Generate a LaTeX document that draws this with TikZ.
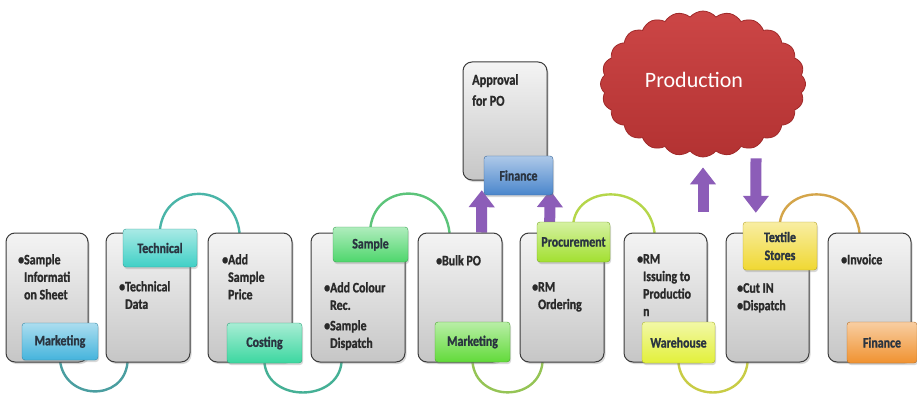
\documentclass[tikz,border=0pt]{standalone}
\usepackage{fontspec}
\setmainfont{Carlito}
\newfontfamily\condfont{Carlito}[FakeStretch=0.82, BoldFeatures={FakeBold=1.2}]
\usetikzlibrary{shapes.symbols,shadows,arrows.meta,calc}
\pgfdeclarelayer{back}
\pgfdeclarelayer{conn}
\pgfsetlayers{back,conn,main}
\definecolor{boxline}{HTML}{3C3C3C}
\definecolor{boxtop}{HTML}{F4F4F4}
\definecolor{boxbot}{HTML}{C6C6C6}
\definecolor{txtcol}{HTML}{2A2A2A}
\definecolor{tagtxt}{HTML}{2A3440}
\definecolor{cMkA}{HTML}{45B4DC}
\definecolor{cTech}{HTML}{40D0C6}
\definecolor{cCost}{HTML}{3CD7A0}
\definecolor{cSamp}{HTML}{4ED66C}
\definecolor{cMkB}{HTML}{62DA3A}
\definecolor{cProc}{HTML}{A2E030}
\definecolor{cWare}{HTML}{E2F03A}
\definecolor{cText}{HTML}{F0D832}
\definecolor{cFinO}{HTML}{F09230}
\definecolor{cFinB}{HTML}{4A86CC}
\definecolor{aOne}{HTML}{4AB5A8}
\definecolor{aTwo}{HTML}{5CC47A}
\definecolor{aThree}{HTML}{B5D64A}
\definecolor{aFour}{HTML}{D4A54A}
\definecolor{uOne}{HTML}{4A9EA0}
\definecolor{uTwo}{HTML}{45B095}
\definecolor{uThree}{HTML}{95C455}
\definecolor{uFour}{HTML}{C8CC45}
\definecolor{purp}{HTML}{8C5DB8}
\definecolor{cloudtop}{HTML}{CC4646}
\definecolor{cloudbot}{HTML}{B33232}
\definecolor{cloudline}{HTML}{A02A2A}
\begin{document}
\begin{tikzpicture}[x=1pt,y=-1pt,
  graybox/.style={draw=boxline, line width=1pt, rounded corners=9pt,
    top color=boxtop, bottom color=boxbot, inner sep=0pt,
    drop shadow={opacity=0.3, shadow xshift=1.5pt, shadow yshift=-2pt}},
  tag/.style={rounded corners=3pt, draw=#1!75!black, line width=0.4pt,
    top color=#1!45!white, bottom color=#1, inner sep=0pt, align=center,
    font=\condfont\bfseries\fontsize{14.5}{16}\selectfont, text=tagtxt,
    drop shadow={opacity=0.3, shadow xshift=1pt, shadow yshift=-2pt}},
  bodytxt/.style={anchor=north west, inner sep=0pt, align=left,
    font=\condfont\bfseries\fontsize{14.5}{17.5}\selectfont, text=txtcol},
  conn/.style={draw=#1, line width=2.4pt, line cap=round},
  parrow/.style={draw=purp, line width=11pt, -{Triangle[width=25pt,length=17pt]}}
]
\useasboundingbox (0,0) rectangle (917,398);
\begin{pgfonlayer}{back}
\fill[white] (0,0) rectangle (917,398);
\end{pgfonlayer}

% cloud
\node[cloud, cloud puffs=24, cloud puff arc=100, cloud ignores aspect,
  minimum width=205pt, minimum height=146pt, draw=cloudline, line width=0.8pt,
  top color=cloudtop, bottom color=cloudbot] (prod) at (703,84) {};
\node[text=white, font=\fontsize{22}{26}\selectfont, inner sep=0pt] (ptxt) at (694,80) {Production};

% gray boxes
\node[graybox, minimum width=82pt, minimum height=129pt] (b1) at (47,297.5) {};
\node[graybox, minimum width=84pt, minimum height=129pt] (b2) at (148,297.5) {};
\node[graybox, minimum width=84pt, minimum height=129pt] (b3) at (250,297.5) {};
\node[graybox, minimum width=94pt, minimum height=129pt] (b4) at (358,297.5) {};
\node[graybox, minimum width=84pt, minimum height=129pt] (b5) at (460,297.5) {};
\node[graybox, minimum width=84pt, minimum height=129pt] (b6) at (562,297.5) {};
\node[graybox, minimum width=83pt, minimum height=129pt] (b7) at (665.5,297.5) {};
\node[graybox, minimum width=83pt, minimum height=129pt] (b8) at (767.5,297.5) {};
\node[graybox, minimum width=83pt, minimum height=129pt] (b9) at (869.5,297.5) {};
\node[graybox, minimum width=84pt, minimum height=118pt] (ap) at (505,121) {};

% tags
\node[tag=cMkA, minimum width=76pt, minimum height=37pt] (t1) at (60,341.5) {Marketing};
\node[tag=cTech, minimum width=74pt, minimum height=38pt] (t2) at (160,248) {Technical};
\node[tag=cCost, minimum width=75pt, minimum height=40pt] (t3) at (264.5,343) {Costing};
\node[tag=cSamp, minimum width=75pt, minimum height=35pt] (t4) at (370.5,244.5) {Sample};
\node[tag=cMkB, minimum width=75pt, minimum height=40pt] (t5) at (472.5,342) {Marketing};
\node[tag=cProc, minimum width=73pt, minimum height=40pt] (t6) at (573.5,242) {Procurement};
\node[tag=cWare, minimum width=73pt, minimum height=41pt] (t7) at (678.5,342.5) {Warehouse};
\node[tag=cText, minimum width=74pt, minimum height=48pt, font=\condfont\bfseries\fontsize{14.5}{18}\selectfont] (t8) at (780,246) {Textile\\Stores};
\node[tag=cFinO, minimum width=70pt, minimum height=41pt] (t9) at (882,342.5) {Finance};
\node[tag=cFinB, minimum width=69pt, minimum height=39pt] (t10) at (518.5,175.5) {Finance};

% texts
\node[bodytxt] (x1) at (18,254) {•Sample\\\phantom{•}Informati\\\phantom{•}on Sheet};
\node[bodytxt] (x2) at (119,281) {•Technical\\\phantom{•}Data};
\node[bodytxt] (x3) at (222,254) {•Add\\\phantom{•}Sample\\\phantom{•}Price};
\node[bodytxt] (x4) at (324,282) {•Add Colour\\\phantom{•}Rec.\\[3pt]•Sample\\\phantom{•}Dispatch};
\node[bodytxt] (x5) at (436,255) {•Bulk PO};
\node[bodytxt] (x6) at (532,282) {•RM\\\phantom{•}Ordering};
\node[bodytxt] (x7) at (637,254) {•RM\\\phantom{•}Issuing to\\\phantom{•}Productio\\\phantom{•}n};
\node[bodytxt] (x8) at (737,283) {•Cut IN\\•Dispatch};
\node[bodytxt] (x9) at (841,254) {•Invoice};
\node[bodytxt, font=\condfont\bfseries\fontsize{15}{21}\selectfont] (xa) at (472,74) {Approval\\for PO};

\coordinate (pa) at (703,212);

\begin{pgfonlayer}{conn}
% upper arcs
\draw[conn=aOne] (t2.north) .. controls +(6,-47) and +(-6,-51) .. ([xshift=32pt]b3.north west);
\draw[conn=aTwo] (t4.north) .. controls +(6,-45) and +(-6,-51) .. ([xshift=32pt]b5.north west);
\draw[conn=aThree] (t6.north) .. controls +(6,-38) and +(-6,-49) .. ([xshift=31pt]b7.north west);
\draw[conn=aFour] (t8.north) .. controls +(6,-38) and +(-6,-49) .. ([xshift=32pt]b9.north west);
% lower arcs
\draw[conn=uOne] (t1.south) .. controls +(4,40) and +(-4,40) .. ([xshift=22pt]b2.south west);
\draw[conn=uTwo] (t3.south) .. controls +(4,39) and +(-4,40) .. ([xshift=31pt]b4.south west);
\draw[conn=uThree] (t5.south) .. controls +(4,40) and +(-4,40) .. ([xshift=23pt]b6.south west);
\draw[conn=uFour] (t7.south) .. controls +(4,39) and +(-4,40) .. ([xshift=22pt]b8.south west);
% purple arrows
\draw[parrow] ([xshift=64pt]b5.north west) -- ([xshift=-2pt,yshift=5pt]t10.south west);
\draw[parrow] ([xshift=30pt]b6.north west) -- ([xshift=-3pt,yshift=5pt]t10.south east);
\draw[parrow] (pa) -- ([yshift=-10pt]prod.south);
\draw[parrow] ([xshift=53pt,yshift=-1pt]prod.south) -- ([xshift=13pt,yshift=9pt]t8.north west);
\end{pgfonlayer}
\end{tikzpicture}
\end{document}
